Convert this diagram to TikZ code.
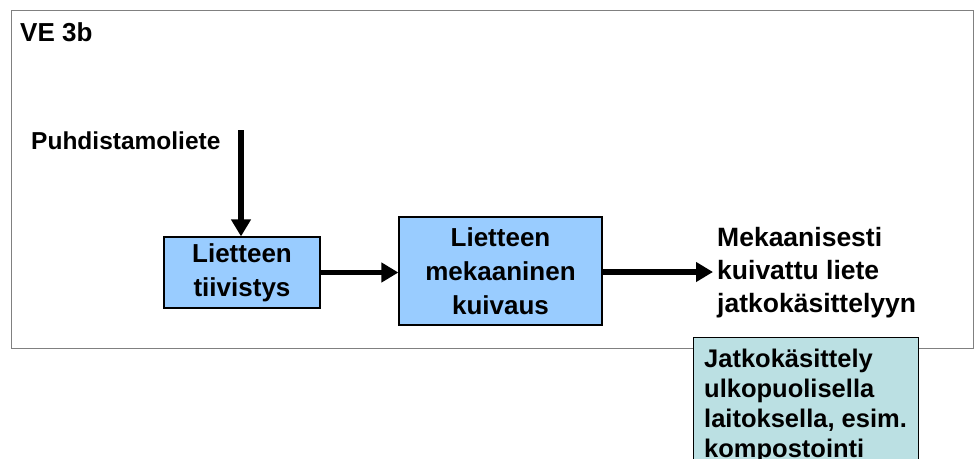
\documentclass[tikz,border=0pt]{standalone}
\usepackage{fontspec}
\setmainfont{Liberation Sans}
\usetikzlibrary{arrows.meta}
\definecolor{boxblue}{RGB}{153,204,255}
\definecolor{boxteal}{RGB}{187,224,227}
\definecolor{framegray}{RGB}{128,128,128}
\begin{document}
\begin{tikzpicture}[x=1pt,y=-1pt,
  procbox/.style={draw=black,line width=1.2pt,fill=boxblue,align=center,font=\bfseries\fontsize{26}{34}\selectfont,inner sep=0pt},
  flow/.style={line width=5.5pt,-{Triangle[length=17pt,width=19pt]}},
  lbl/.style={font=\bfseries\fontsize{26}{34}\selectfont,inner sep=0pt}]
\useasboundingbox (0,0) rectangle (980,458);
\begin{scope}
\clip (0,0) rectangle (980,458);
\node[draw=framegray,line width=1.2pt,minimum width=962pt,minimum height=338pt,anchor=north west,inner sep=0pt] (frame) at (11,10) {};
\node[lbl,anchor=west] (title) at (20,32) {VE 3b};
\node[lbl,anchor=west,font=\bfseries\fontsize{24.5}{30}\selectfont] (src) at (31,141) {Puhdistamoliete};
\coordinate (srctop) at (241,130);
\coordinate (outend) at (713,272);
\node[procbox,minimum width=156pt,minimum height=71pt] (b1) at (242,272.5) {Lietteen\\tiivistys};
\node[procbox,minimum width=203pt,minimum height=108pt] (b2) at (500.5,271) {Lietteen\\mekaaninen\\kuivaus};
\node[lbl,anchor=west,align=left,font=\bfseries\fontsize{26.5}{33}\selectfont] (out) at (717,273) {Mekaanisesti\\kuivattu liete\\jatkokäsittelyyn};
\node[draw=black,line width=1pt,fill=boxteal,anchor=north west,minimum width=225pt,minimum height=140pt,inner sep=0pt] (b3) at (693,337) {};
\node[lbl,anchor=north west,align=left,font=\bfseries\fontsize{25.5}{30}\selectfont] (b3t) at (704,349) {Jatkokäsittely\\ulkopuolisella\\laitoksella, esim.\\kompostointi};
\draw[flow] (srctop) -- (b1.north -| srctop);
\draw[flow] (b1.east) -- (b2.west |- b1.east);
\draw[flow] (b2.east |- outend) -- (outend);
\end{scope}
\end{tikzpicture}
\end{document}
